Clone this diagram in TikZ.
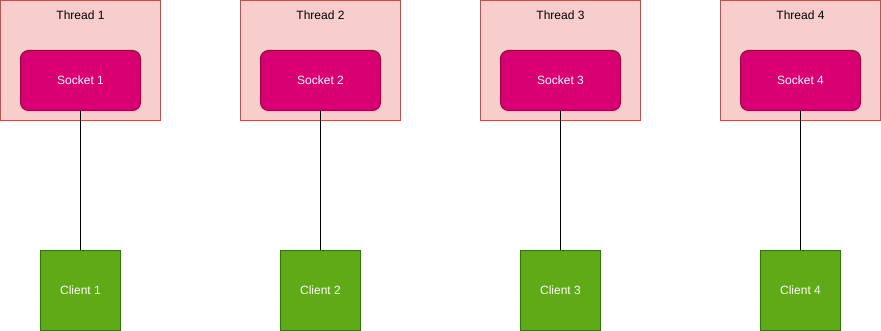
\documentclass[tikz,border=0pt]{standalone}
\usepackage{fontspec}
\setmainfont{Liberation Sans}
\usepackage{xcolor}
\usetikzlibrary{positioning}

\definecolor{threadfill}{HTML}{F8CECC}
\definecolor{threaddraw}{HTML}{B85450}
\definecolor{socketfill}{HTML}{D80073}
\definecolor{socketdraw}{HTML}{A50040}
\definecolor{clientfill}{HTML}{60A917}
\definecolor{clientdraw}{HTML}{2D7600}

\begin{document}
\begin{tikzpicture}[
  x=1pt, y=1pt,
  node distance=80pt,
  every node/.style={font=\fontsize{12}{14}\selectfont},
  thread/.style={draw=threaddraw, fill=threadfill, line width=1pt, outer sep=0pt, minimum width=160pt, minimum height=120pt, inner sep=0pt},
  threadlabel/.style={anchor=center, yshift=-15pt, inner sep=0pt},
  socket/.style={draw=socketdraw, fill=socketfill, text=white, rounded corners=8pt, line width=1pt, outer sep=0pt, minimum width=120pt, minimum height=60pt},
  client/.style={draw=clientdraw, fill=clientfill, text=white, line width=1pt, outer sep=0pt, minimum width=80pt, minimum height=80pt},
  link/.style={line width=1pt},
]
  \useasboundingbox (0,0) rectangle (881,-331);

  \node[thread, label={[threadlabel]north:Thread 1}] (thread1) at (80.5,-60.5) {};
  \node[thread, label={[threadlabel]north:Thread 2}, right=of thread1] (thread2) {};
  \node[thread, label={[threadlabel]north:Thread 3}, right=of thread2] (thread3) {};
  \node[thread, label={[threadlabel]north:Thread 4}, right=of thread3] (thread4) {};

  \node[socket] (socket1) at ([yshift=-20pt]thread1.center) {Socket 1};
  \node[socket] (socket2) at ([yshift=-20pt]thread2.center) {Socket 2};
  \node[socket] (socket3) at ([yshift=-20pt]thread3.center) {Socket 3};
  \node[socket] (socket4) at ([yshift=-20pt]thread4.center) {Socket 4};

  \node[client, below=140pt of socket1] (client1) {Client 1};
  \node[client, below=140pt of socket2] (client2) {Client 2};
  \node[client, below=140pt of socket3] (client3) {Client 3};
  \node[client, below=140pt of socket4] (client4) {Client 4};

  \draw[link] (socket1) -- (client1);
  \draw[link] (socket2) -- (client2);
  \draw[link] (socket3) -- (client3);
  \draw[link] (socket4) -- (client4);
\end{tikzpicture}
\end{document}
